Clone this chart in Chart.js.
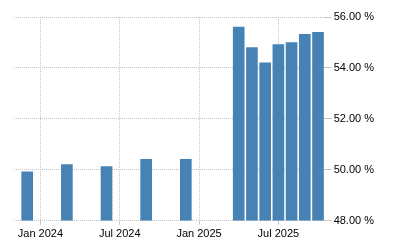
<!DOCTYPE html>
<html>
<head>
<meta charset="utf-8">
<script src="https://cdn.jsdelivr.net/npm/chart.js@4/dist/chart.umd.min.js"></script>
<style>
  html, body { margin: 0; padding: 0; background: #fff; }
  #wrap { width: 400px; height: 250px; }
</style>
</head>
<body>
<div id="wrap"><canvas id="chart"></canvas></div>
<script>
// periods (year-month) and values
const periods = ['2023-12', '2024-03', '2024-06', '2024-09', '2024-12',
  '2025-04', '2025-05', '2025-06', '2025-07', '2025-08', '2025-09', '2025-10'];
const values = [49.92, 50.21, 50.13, 50.41, 50.41,
  55.6, 54.8, 54.2, 54.92, 55.0, 55.32, 55.4];
const tickMonths = [0, 6, 12, 18];
const tickLabels = ['Jan 2024', 'Jul 2024', 'Jan 2025', 'Jul 2025'];
const yTicks = [48, 50, 52, 54, 56];

// months counted from Jan 2024
const monthIndex = p => {
  const [y, m] = p.split('-').map(Number);
  return (y - 2024) * 12 + (m - 1);
};

const points = periods.map((p, i) => ({ x: monthIndex(p), y: values[i] }));

const gridStyle = {
  color: '#c4c4c4',
  lineWidth: 1,
  offset: false
};

new Chart(document.getElementById('chart'), {
  type: 'bar',
  data: {
    datasets: [{
      data: points,
      backgroundColor: '#4682b4',
      borderWidth: 0,
      barThickness: 11,
      base: 48
    }]
  },
  options: {
    responsive: true,
    maintainAspectRatio: false,
    animation: false,
    layout: { padding: { left: 14, top: 17, right: 24, bottom: 6 } },
    plugins: {
      legend: { display: false },
      tooltip: { enabled: false }
    },
    scales: {
      x: {
        type: 'linear',
        min: -2,
        max: 21.5,
        offset: false,
        afterBuildTicks: axis => {
          axis.ticks = tickMonths.map(v => ({ value: v }));
        },
        ticks: {
          autoSkip: false,
          maxRotation: 0,
          padding: 3,
          color: '#000',
          font: { family: 'Liberation Sans', size: 11 },
          callback: v => tickLabels[tickMonths.indexOf(v)]
        },
        grid: { ...gridStyle, tickLength: 4 },
        border: { display: false, dash: [1, 1] }
      },
      y: {
        position: 'right',
        min: 48,
        max: 56,
        afterBuildTicks: axis => {
          axis.ticks = yTicks.map(v => ({ value: v }));
        },
        ticks: {
          padding: 2,
          color: '#000',
          font: { family: 'Liberation Sans', size: 11 },
          callback: v => v.toFixed(2) + ' %'
        },
        grid: { ...gridStyle, tickLength: 7 },
        border: { display: false, dash: [1, 1] }
      }
    }
  }
});
</script>
</body>
</html>
